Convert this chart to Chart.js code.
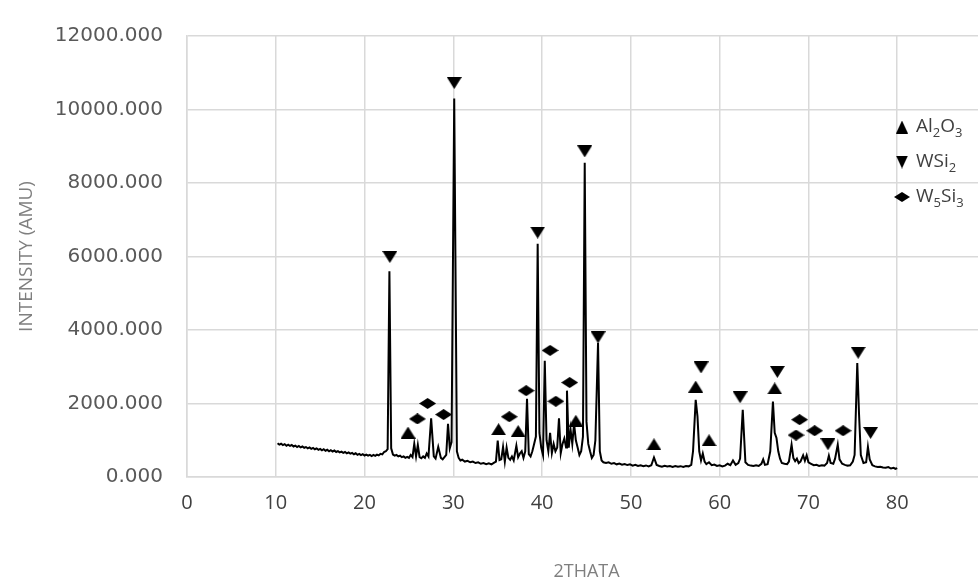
<!DOCTYPE html>
<html>
<head>
<meta charset="utf-8">
<script src="https://cdn.jsdelivr.net/npm/chart.js@4.4.1/dist/chart.umd.min.js"></script>
<style>
  html, body { margin: 0; padding: 0; background: #fff; overflow: hidden; }
  #wrap { width: 978px; height: 583px; overflow: hidden; }
  canvas { display: block; }
</style>
</head>
<body>
<div id="wrap"><canvas id="chart" width="1000" height="583"></canvas></div>
<script>
// XRD trace, [2theta, intensity]
const trace = [
  [10.2, 920], [10.4, 880], [10.6, 905], [10.8, 870], [11.0, 895], [11.2, 850], [11.4, 880], [11.6, 845],
  [11.8, 870], [12.0, 830], [12.2, 855], [12.4, 815], [12.6, 845], [12.8, 805], [13.0, 830], [13.2, 795],
  [13.4, 815], [13.6, 780], [13.8, 805], [14.0, 765], [14.2, 790], [14.4, 755], [14.6, 780], [14.8, 740],
  [15.0, 765], [15.2, 725], [15.4, 755], [15.6, 715], [15.8, 740], [16.0, 700], [16.2, 730], [16.4, 695],
  [16.6, 720], [16.8, 680], [17.0, 705], [17.2, 670], [17.4, 690], [17.6, 655], [17.8, 680], [18.0, 645],
  [18.2, 670], [18.4, 635], [18.6, 655], [18.8, 620], [19.0, 645], [19.2, 605], [19.4, 630], [19.6, 595],
  [19.8, 620], [20.0, 585], [20.2, 610], [20.4, 580], [20.6, 600], [20.8, 570], [21.0, 600], [21.2, 575],
  [21.4, 610], [21.6, 590], [21.8, 630], [22.0, 615], [22.2, 680], [22.4, 700], [22.6, 760], [22.8, 5600],
  [23.0, 780], [23.2, 610], [23.4, 580], [23.6, 600], [23.8, 560], [24.0, 580], [24.2, 540], [24.4, 560],
  [24.6, 520], [24.8, 545], [25.0, 520], [25.2, 600], [25.4, 540], [25.6, 900], [25.8, 560], [26.0, 870],
  [26.2, 540], [26.4, 510], [26.6, 560], [26.8, 520], [27.0, 640], [27.2, 560], [27.5, 1600], [27.8, 560],
  [28.0, 500], [28.3, 820], [28.6, 520], [28.8, 480], [29.0, 540], [29.2, 600], [29.4, 1450], [29.6, 780],
  [29.8, 950], [30.1, 10300], [30.4, 700], [30.6, 520], [30.8, 450], [31.0, 470], [31.3, 420], [31.6, 440],
  [31.9, 400], [32.2, 420], [32.5, 380], [32.8, 400], [33.1, 360], [33.4, 380], [33.7, 350], [34.0, 375],
  [34.3, 345], [34.6, 390], [34.8, 420], [35.0, 990], [35.2, 460], [35.4, 480], [35.6, 820], [35.8, 420],
  [36.0, 800], [36.2, 520], [36.4, 470], [36.6, 560], [36.8, 450], [37.1, 850], [37.3, 540], [37.5, 640],
  [37.7, 700], [37.9, 520], [38.1, 700], [38.3, 2130], [38.5, 620], [38.7, 560], [38.9, 700], [39.1, 900],
  [39.3, 1100], [39.5, 6350], [39.7, 1200], [39.9, 800], [40.1, 600], [40.3, 3160], [40.5, 1000], [40.7, 700],
  [40.9, 1200], [41.1, 650], [41.3, 900], [41.5, 700], [41.7, 800], [41.9, 1600], [42.1, 650], [42.3, 900],
  [42.5, 1050], [42.7, 800], [42.8, 2350], [43.0, 800], [43.2, 1300], [43.4, 900], [43.6, 1450], [43.8, 1000],
  [44.0, 800], [44.2, 600], [44.4, 700], [44.6, 1100], [44.8, 8550], [45.0, 1500], [45.2, 900], [45.4, 700],
  [45.6, 520], [45.8, 600], [46.0, 1000], [46.3, 3650], [46.5, 700], [46.7, 450], [46.9, 400], [47.2, 380],
  [47.5, 400], [47.8, 360], [48.1, 380], [48.4, 345], [48.7, 365], [49.0, 335], [49.3, 355], [49.6, 325],
  [49.9, 345], [50.2, 310], [50.5, 330], [50.8, 300], [51.1, 320], [51.4, 295], [51.7, 315], [52.0, 290],
  [52.3, 320], [52.6, 530], [52.9, 330], [53.2, 300], [53.5, 280], [53.8, 305], [54.1, 285], [54.4, 300],
  [54.7, 275], [55.0, 300], [55.3, 280], [55.6, 295], [55.9, 275], [56.2, 300], [56.5, 290], [56.8, 330],
  [57.0, 700], [57.3, 2100], [57.5, 1650], [57.7, 700], [57.9, 450], [58.1, 640], [58.3, 420], [58.5, 350],
  [58.8, 400], [59.1, 320], [59.4, 340], [59.7, 300], [60.0, 320], [60.3, 290], [60.6, 310], [60.9, 360],
  [61.2, 320], [61.5, 450], [61.8, 330], [62.1, 380], [62.3, 500], [62.6, 1830], [62.9, 400], [63.2, 330],
  [63.5, 310], [63.8, 300], [64.1, 320], [64.4, 300], [64.7, 360], [64.9, 480], [65.1, 330], [65.4, 350],
  [65.7, 700], [66.0, 2050], [66.2, 1200], [66.4, 1060], [66.6, 700], [66.8, 500], [67.0, 380], [67.3, 360],
  [67.6, 350], [67.8, 420], [68.1, 880], [68.3, 520], [68.5, 430], [68.7, 500], [68.9, 380], [69.1, 420],
  [69.4, 590], [69.6, 440], [69.8, 590], [70.0, 400], [70.3, 360], [70.6, 320], [70.9, 330], [71.2, 300],
  [71.5, 320], [71.8, 310], [72.1, 380], [72.3, 580], [72.5, 380], [72.8, 360], [73.0, 500], [73.3, 880],
  [73.5, 480], [73.8, 360], [74.1, 330], [74.4, 310], [74.7, 320], [75.0, 420], [75.2, 600], [75.5, 3100],
  [75.7, 1700], [75.9, 600], [76.2, 380], [76.5, 400], [76.7, 820], [76.9, 480], [77.2, 320], [77.5, 290],
  [77.8, 270], [78.1, 280], [78.4, 260], [78.7, 250], [79.0, 270], [79.3, 230], [79.6, 250], [79.8, 220],
  [80.0, 240],
];

// phase markers
const al2o3X = [24.9, 35.1, 37.3, 43.8, 52.6, 57.3, 58.8, 66.2];
const al2o3Y = [1210, 1300, 1250, 1530, 890, 2460, 1000, 2410];
const wsi2X = [22.85, 30.1, 39.5, 44.8, 46.3, 57.9, 62.3, 66.5, 72.2, 75.6, 77.0];
const wsi2Y = [5985, 10720, 6650, 8860, 3800, 2980, 2170, 2860, 890, 3380, 1200];
const w5si3X = [25.95, 27.1, 28.9, 36.3, 38.2, 40.9, 41.55, 43.1, 68.6, 69.0, 70.7, 73.9];
const w5si3Y = [1580, 2000, 1700, 1640, 2350, 3445, 2060, 2570, 1140, 1560, 1260, 1260];

const seriesLabels = ['Al₂O₃', 'WSi₂', 'W₅Si₃'];
const xTickLabels = [0, 10, 20, 30, 40, 50, 60, 70, 80];
const yTickLabels = [0, 2000, 4000, 6000, 8000, 10000, 12000];

function makeMarker(kind, w, h) {
  const c = document.createElement('canvas');
  c.width = w; c.height = h;
  const g = c.getContext('2d');
  g.fillStyle = '#000';
  g.beginPath();
  if (kind === 'up') {
    g.moveTo(w / 2, 0); g.lineTo(w, h); g.lineTo(0, h);
  } else if (kind === 'down') {
    g.moveTo(0, 0); g.lineTo(w, 0); g.lineTo(w / 2, h);
  } else {
    g.moveTo(w / 2, 0); g.lineTo(w, h / 2); g.lineTo(w / 2, h); g.lineTo(0, h / 2);
  }
  g.closePath();
  g.fill();
  return c;
}

const markers = [
  { img: makeMarker('up', 15, 12), legend: makeMarker('up', 12, 13) },
  { img: makeMarker('down', 15, 12), legend: makeMarker('down', 12, 13) },
  { img: makeMarker('diamond', 17, 11), legend: makeMarker('diamond', 16, 10) },
];

const zip = (xs, ys) => xs.map((x, i) => ({ x, y: ys[i] }));

// legend sits on top of the plot at the right, with subscripts
const markerLegend = {
  id: 'markerLegend',
  afterDraw(chart) {
    const ctx = chart.ctx;
    const rows = [127, 162, 197];
    ctx.save();
    ctx.textBaseline = 'middle';
    ctx.fillStyle = '#404040';
    seriesLabels.forEach((label, i) => {
      const m = markers[i].legend;
      const cy = rows[i];
      ctx.drawImage(m, 902 - m.width / 2, cy - m.height / 2);
      let x = 916;
      for (const ch of label) {
        const code = ch.charCodeAt(0);
        if (code >= 0x2080 && code <= 0x2089) {
          ctx.font = '13px "Open Sans"';
          const d = String.fromCharCode(code - 0x2080 + 48);
          ctx.fillText(d, x, cy + 6);
          x += ctx.measureText(d).width;
        } else {
          ctx.font = '19px "Open Sans"';
          ctx.fillText(ch, x, cy);
          x += ctx.measureText(ch).width;
        }
      }
    });
    ctx.restore();
  },
};

const gridColor = '#d9d9d9';

new Chart(document.getElementById('chart'), {
  type: 'scatter',
  data: {
    datasets: [
      { label: seriesLabels[0], data: zip(al2o3X, al2o3Y), pointStyle: markers[0].img, pointRadius: 7 },
      { label: seriesLabels[1], data: zip(wsi2X, wsi2Y), pointStyle: markers[1].img, pointRadius: 7 },
      { label: seriesLabels[2], data: zip(w5si3X, w5si3Y), pointStyle: markers[2].img, pointRadius: 7 },
      {
        label: 'trace',
        data: trace.map(([x, y]) => ({ x, y })),
        showLine: true,
        borderColor: '#000',
        borderWidth: 2,
        pointRadius: 0,
        tension: 0,
      },
    ],
  },
  options: {
    responsive: false,
    animation: false,
    layout: { padding: { top: 27, right: 14, bottom: 0, left: 0 } },
    plugins: { legend: { display: false }, tooltip: { enabled: false } },
    scales: {
      x: {
        type: 'linear',
        min: 0,
        max: 90,
        afterFit: (s) => { s.height = 106; },
        ticks: {
          stepSize: 10,
          padding: 14,
          color: '#404040',
          font: { family: 'Open Sans', size: 20 },
          callback: (v) => xTickLabels.includes(v) ? String(v) : '',
        },
        grid: { color: gridColor, lineWidth: 1.5, drawTicks: false },
        border: { color: gridColor, width: 1.5 },
        title: {
          display: true,
          text: '2THATA',
          color: '#7f7f7f',
          font: { family: 'Open Sans', size: 18 },
          padding: { top: 0, bottom: 0 },
        },
      },
      y: {
        min: 0,
        max: 12000,
        afterFit: (s) => { s.width = 187; },
        afterBuildTicks: (s) => { s.ticks = yTickLabels.map(v => ({ value: v })); },
        ticks: {
          padding: 24,
          color: '#595959',
          font: { family: 'DejaVu Sans', size: 20 },
          callback: (v) => Number(v).toFixed(3),
        },
        grid: { color: gridColor, lineWidth: 1.5, drawTicks: false },
        border: { color: gridColor, width: 1.5 },
        title: {
          display: true,
          text: 'INTENSITY (AMU)',
          color: '#7f7f7f',
          font: { family: 'Open Sans', size: 19 },
          padding: { top: 15, bottom: 0 },
        },
      },
    },
  },
  plugins: [markerLegend],
});
</script>
</body>
</html>
